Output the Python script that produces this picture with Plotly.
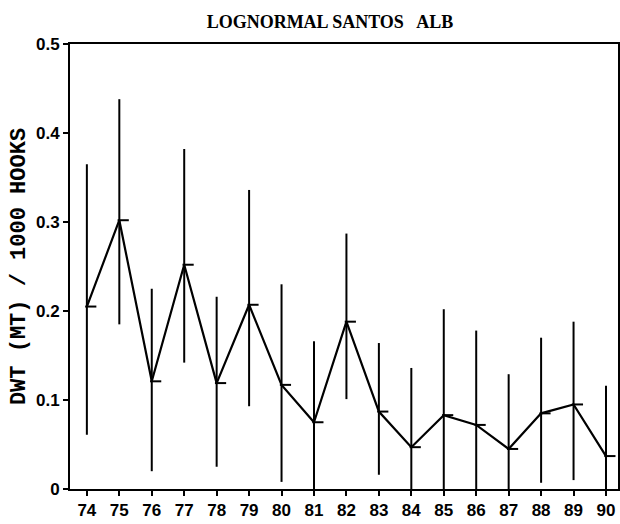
import plotly.graph_objects as go

years = [74, 75, 76, 77, 78, 79, 80, 81, 82, 83, 84, 85, 86, 87, 88, 89, 90]
cpue = [0.205, 0.302, 0.121, 0.252, 0.119, 0.207, 0.117, 0.075, 0.188, 0.087,
        0.047, 0.083, 0.072, 0.045, 0.085, 0.095, 0.037]
upper = [0.365, 0.438, 0.225, 0.382, 0.216, 0.336, 0.230, 0.166, 0.287, 0.164,
         0.136, 0.202, 0.178, 0.129, 0.170, 0.188, 0.116]
lower = [0.061, 0.185, 0.020, 0.142, 0.025, 0.093, 0.008, 0.0, 0.101, 0.016,
         0.0, 0.0, 0.0, 0.0, 0.007, 0.010, 0.0]
tick_years = [str(y) for y in years]
y_ticks = [0, 0.1, 0.2, 0.3, 0.4, 0.5]
y_tick_labels = ["0", "0.1", "0.2", "0.3", "0.4", "0.5"]

err_plus = [u - c for u, c in zip(upper, cpue)]
err_minus = [c - l for c, l in zip(cpue, lower)]

fig = go.Figure()
fig.add_trace(go.Scatter(
    x=years, y=cpue, mode="lines",
    line=dict(color="black", width=2.2),
    error_y=dict(type="data", symmetric=False, array=err_plus, arrayminus=err_minus,
                 color="black", thickness=2, width=0),
    showlegend=False, hoverinfo="skip",
))
# short mean dash to the right of each bar
fig.add_trace(go.Scatter(
    x=[y + 0.12 for y in years], y=cpue, mode="markers",
    marker=dict(symbol="line-ew-open", size=8, color="black",
                line=dict(color="black", width=2)),
    showlegend=False, hoverinfo="skip",
))

W, H = 620, 524
fig.update_layout(
    width=W, height=H,
    margin=dict(l=70, r=2, t=44, b=35, autoexpand=False),
    paper_bgcolor="white", plot_bgcolor="white",
    title=dict(text="LOGNORMAL SANTOS   ALB", x=330 / W, xanchor="center",
               xref="container", y=1 - 22 / H, yref="container", yanchor="middle",
               font=dict(family="Liberation Serif", size=18, color="black", weight="bold")),
    xaxis=dict(range=[73.48, 90.37], tickmode="array", tickvals=years, ticktext=tick_years,
               ticks="outside", ticklen=5, tickwidth=1.5, tickcolor="black",
               showline=True, linecolor="black", linewidth=2, mirror=True,
               showgrid=False, zeroline=False, automargin=False,
               tickfont=dict(family="Liberation Sans", size=17, color="black", weight="bold")),
    yaxis=dict(range=[0, 0.5], tickmode="array", tickvals=y_ticks, ticktext=y_tick_labels,
               ticks="outside", ticklen=5, tickwidth=1.5, tickcolor="black",
               showline=True, linecolor="black", linewidth=2, mirror=True,
               showgrid=False, zeroline=False, automargin=False,
               tickfont=dict(family="Liberation Sans", size=17, color="black", weight="bold"),
               title=dict(text="DWT (MT) / 1000 HOOKS", standoff=4,
                          font=dict(family="Liberation Mono", size=22, color="black",
                                    weight="bold"))),
)

fig.write_html(
    "out.html",
    config={"displayModeBar": False},
    post_script="document.body.style.margin='0';document.body.style.overflow='hidden';",
)
